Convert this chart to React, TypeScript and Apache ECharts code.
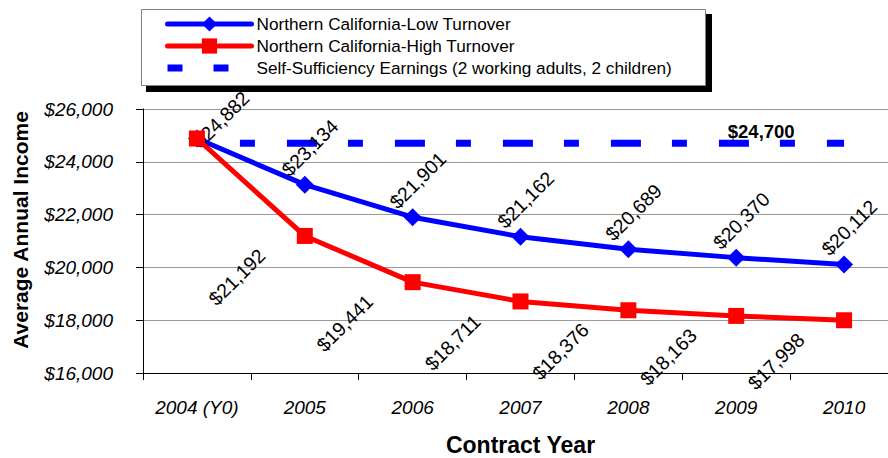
import React, { useEffect, useRef } from 'react';
import * as echarts from 'echarts';

const years = ['2004 (Y0)', '2005', '2006', '2007', '2008', '2009', '2010'];
const lowTurnover = [24882, 23134, 21901, 21162, 20689, 20370, 20112];
const highTurnover = [24882, 21192, 19441, 18711, 18376, 18163, 17998];
const selfSufficiency = [24700, 24700, 24700, 24700, 24700, 24700, 24700];
const yMin = 16000;
const yMax = 26000;
const yInterval = 2000;
const seriesNames = [
  'Northern California-Low Turnover',
  'Northern California-High Turnover',
  'Self-Sufficiency Earnings (2 working adults, 2 children)',
];
const selfSufficiencyLabelIndex = 5;

const money = (v: number) => '$' + String(Math.round(v)).replace(/\B(?=(\d{3})+(?!\d))/g, ',');

const SANS = "'Liberation Sans', Arial, sans-serif";

// label offsets are applied in the rotated (45°) frame; convert a screen offset
const rotOffset = (dx: number, dy: number) => {
  const c = Math.SQRT1_2;
  return [c * (dx - dy), c * (dx + dy)];
};

export default function App() {
  const ref = useRef<HTMLDivElement>(null);
  useEffect(() => {
    if (!ref.current) return;
    const chart = echarts.init(ref.current, undefined, { renderer: 'svg' });
    const labelFmt = (p: any) => money(Number(p.value));
    chart.setOption({
      animation: false,
      backgroundColor: '#fff',
      graphic: [
        { type: 'rect', z: 0, shape: { x: 146, y: 14, width: 566, height: 78 }, style: { fill: '#000' } },
        { type: 'rect', z: 1, shape: { x: 141.5, y: 9.5, width: 564, height: 76 }, style: { fill: '#fff', stroke: '#808080', lineWidth: 1 } },
      ],
      grid: { left: 143, top: 109, width: 755, height: 264, containLabel: false, outerBoundsMode: 'none' },
      legend: {
        orient: 'vertical',
        left: 164,
        top: 14.5,
        padding: 0,
        itemWidth: 84,
        itemHeight: 19,
        itemGap: 3,
        z: 10,
        textStyle: { fontFamily: SANS, fontSize: 17.2, color: '#000', lineHeight: 19 },
        data: [
          { name: seriesNames[0], lineStyle: { cap: 'round', width: 5 } },
          { name: seriesNames[1], lineStyle: { cap: 'round', width: 5 } },
          { name: seriesNames[2], itemStyle: { opacity: 0 }, lineStyle: { type: [15, 31], dashOffset: 0, width: 7 } },
        ],
      },
      xAxis: {
        type: 'category',
        data: years,
        boundaryGap: true,
        axisLine: { lineStyle: { color: '#000', width: 1 } },
        axisTick: { show: true, length: 7, lineStyle: { color: '#000' } },
        axisLabel: { color: '#000', fontFamily: SANS, fontStyle: 'italic', fontSize: 19, margin: 25, interval: 0 },
        name: 'Contract Year',
        nameLocation: 'middle',
        nameGap: 60,
        nameTextStyle: { fontFamily: SANS, fontWeight: 'bold', fontSize: 23, color: '#000' },
      },
      yAxis: {
        type: 'value',
        min: yMin,
        max: yMax,
        interval: yInterval,
        axisLine: { show: true, lineStyle: { color: '#000', width: 1 } },
        axisTick: { show: true, length: 7, lineStyle: { color: '#000' } },
        splitLine: { show: true, lineStyle: { color: '#999', width: 1 } },
        axisLabel: { formatter: money, color: '#000', fontStyle: 'italic', fontSize: 19, margin: 30, fontFamily: SANS },
        name: 'Average Annual Income',
        nameLocation: 'middle',
        nameGap: 112,
        nameTextStyle: { fontFamily: SANS, fontWeight: 'bold', fontSize: 21, color: '#000', padding: [0, 0, 0, 22] },
      },
      series: [
        {
          name: seriesNames[2],
          type: 'line',
          z: 1,
          symbol: 'none',
          silent: true,
          data: selfSufficiency.map((v, i) =>
            i === selfSufficiencyLabelIndex
              ? {
                  value: v,
                  symbol: 'circle',
                  symbolSize: 0,
                  label: {
                    show: true,
                    position: 'inside',
                    offset: [25, -12],
                    formatter: labelFmt,
                    fontFamily: SANS,
                    fontWeight: 'bold',
                    fontSize: 18.5,
                    color: '#000',
                    textBorderWidth: 0,
                  },
                }
              : v
          ),
          lineStyle: { color: '#0000FF', width: 7, type: [30, 31, 15, 32], dashOffset: 18 },
          itemStyle: { color: '#0000FF' },
        },
        {
          name: seriesNames[0],
          type: 'line',
          z: 2,
          symbol: 'diamond',
          symbolSize: 18,
          silent: true,
          data: lowTurnover.map((v, i) => (i === 0 ? { value: v, label: { offset: rotOffset(24, -19) } } : v)),
          lineStyle: { color: '#0000FF', width: 5 },
          itemStyle: { color: '#0000FF' },
          label: {
            show: true,
            position: 'inside',
            rotate: 45,
            offset: rotOffset(5, -37),
            formatter: labelFmt,
            fontFamily: SANS,
            fontSize: 19.5,
            color: '#000',
            textBorderWidth: 0,
          },
        },
        {
          name: seriesNames[1],
          type: 'line',
          z: 3,
          symbol: 'rect',
          symbolSize: 16,
          silent: true,
          data: highTurnover.map((v, i) => (i === 0 ? { value: v, label: { show: false } } : v)),
          lineStyle: { color: '#FF0000', width: 5 },
          itemStyle: { color: '#FF0000' },
          label: {
            show: true,
            position: 'inside',
            rotate: 45,
            offset: rotOffset(-68, 41),
            formatter: labelFmt,
            fontFamily: SANS,
            fontSize: 19.5,
            color: '#000',
            textBorderWidth: 0,
          },
        },
      ],
    });
    return () => chart.dispose();
  }, []);
  return <div ref={ref} style={{ position: 'fixed', left: 0, top: 0, width: 888, height: 458 }} />;
}
